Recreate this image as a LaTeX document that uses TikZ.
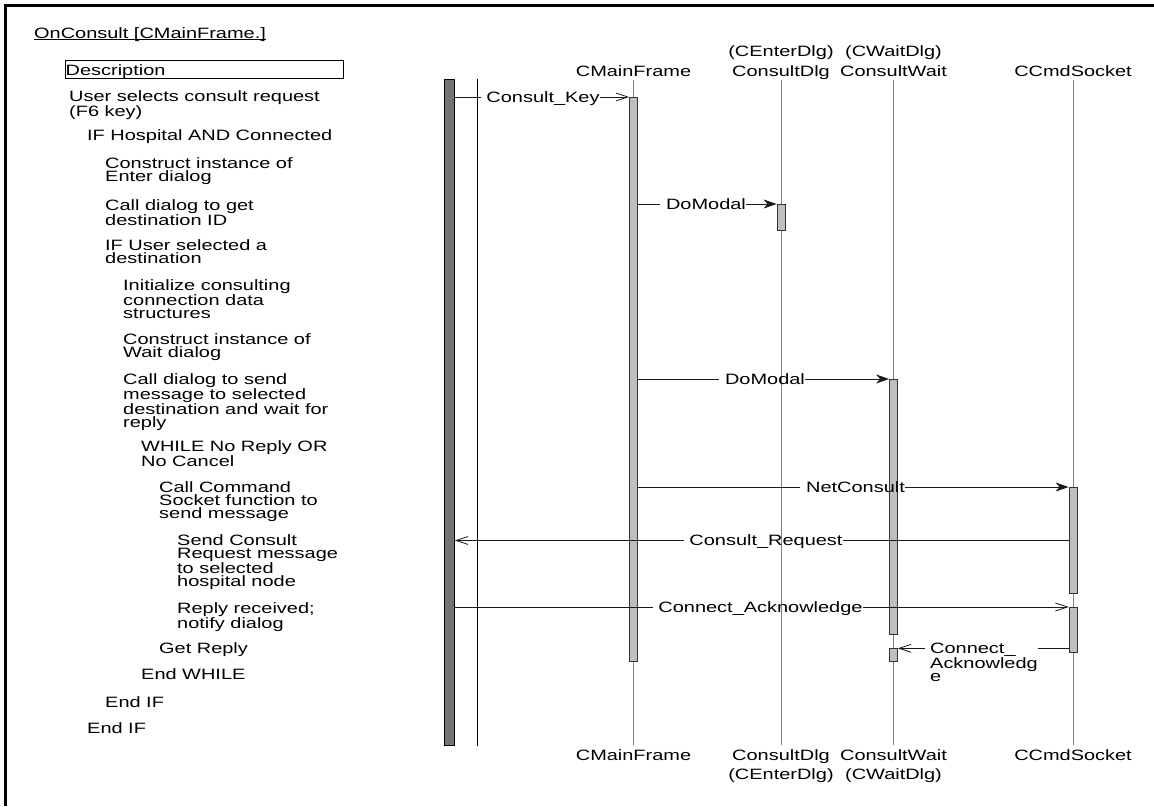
\documentclass[tikz,border=0pt]{standalone}
\usepackage{fontspec}
\setmainfont{Liberation Sans}[FakeStretch=1.33]
\usetikzlibrary{arrows.meta,calc}
\newcommand{\firstln}{\rule{0pt}{11pt}}
\begin{document}
\begin{tikzpicture}[x=1pt,y=-1pt,
  font=\fontsize{15}{13.3}\selectfont,
  every node/.style={inner sep=0pt},
  txt/.style={anchor=north west, align=left},
  hdr/.style={anchor=base},
  lbl/.style={anchor=base},
  life/.style={draw=black!50, line width=0.8pt},
  actbar/.style={draw=black!80, fill=black!25, line width=0.8pt, minimum width=8pt, anchor=north},
  msg/.style={draw=black!90, line width=0.8pt},
  sync/.style={msg, -{Stealth[length=13pt,width=9pt,inset=4pt]}},
  async/.style={msg, -{Straight Barb[length=12pt,width=8pt]}}]
\useasboundingbox (0,0) rectangle (1154,806);
% frame (top and left only)
\draw[line width=3pt] (5.7,806) -- (5.7,5.7) -- (1154,5.7);
% title
\node[anchor=base west] (title) at (34,38) {OnConsult [CMainFrame.]};
\draw[line width=0.8pt] ($(title.base west)+(0,1.5)$) -- ($(title.base east)+(0,1.5)$);
% description header
\node[draw, line width=0.8pt, anchor=north west, minimum width=278pt, minimum height=17.5pt] (descbox) at (65,60) {};
\node[anchor=base west] (desc) at (65.5,75) {Description};
% left column
\node[txt] (t1) at (69,90.5) {\firstln User selects consult request\\(F6 key)};
\node[txt] (t2) at (87,129) {\firstln IF Hospital AND Connected};
\node[txt] (t3) at (105,157) {\firstln Construct instance of\\Enter dialog};
\node[txt] (t4) at (105,199) {\firstln Call dialog to get\\destination ID};
\node[txt] (t5) at (105,239) {\firstln IF User selected a\\destination};
\node[txt] (t6) at (123,279) {\firstln Initialize consulting\\connection data\\structures};
\node[txt] (t7) at (123,333) {\firstln Construct instance of\\Wait dialog};
\node[txt] (t8) at (123,373) {\firstln Call dialog to send\\message to selected\\destination and wait for\\reply};
\node[txt] (t9) at (141,440) {\firstln WHILE No Reply OR\\No Cancel};
\node[txt] (t10) at (159,481) {\firstln Call Command\\Socket function to\\send message};
\node[txt] (t11) at (177,534) {\firstln Send Consult\\Request message\\to selected\\hospital node};
\node[txt] (t12) at (177,602) {\firstln Reply received;\\notify dialog};
\node[txt] (t13) at (159,642) {\firstln Get Reply};
\node[txt] (t14) at (141,668.5) {\firstln End WHILE};
\node[txt] (t15) at (105,696) {\firstln End IF};
\node[txt] (t16) at (87,722) {\firstln End IF};
% headers
\node[hdr] (hcmf) at (633.5,76) {CMainFrame};
\node[hdr] (hcdb) at (781,56) {(CEnterDlg)};
\node[hdr] (hcd) at (781,76) {ConsultDlg};
\node[hdr] (hcwb) at (893.5,56) {(CWaitDlg)};
\node[hdr] (hcw) at (893.5,76) {ConsultWait};
\node[hdr] (hcs) at (1073,76) {CCmdSocket};
% footers
\node[hdr] (fcmf) at (633.5,760) {CMainFrame};
\node[hdr] (fcd) at (781,760) {ConsultDlg};
\node[hdr] (fcdb) at (781,779) {(CEnterDlg)};
\node[hdr] (fcw) at (893.5,760) {ConsultWait};
\node[hdr] (fcwb) at (893.5,779) {(CWaitDlg)};
\node[hdr] (fcs) at (1073,760) {CCmdSocket};
% actor bar and boundary line
\node[draw=black, line width=0.8pt, fill=black!55, minimum width=10pt, minimum height=666pt, anchor=north west] (actor) at (444,79) {};
\draw[line width=0.8pt] (477,79) -- (477,746);
% lifelines
\draw[life] (633.5,80) -- (633.5,745);
\draw[life] (781,80) -- (781,745);
\draw[life] (893.5,80) -- (893.5,745);
\draw[life] (1073,80) -- (1073,745);
% activation bars
\node[actbar, minimum height=563.5pt] (cmfbar) at (633.5,97) {};
\node[actbar, minimum height=26pt] (cdbar) at (781,204) {};
\node[actbar, minimum height=255pt] (cwbar) at (893.5,379) {};
\node[actbar, minimum height=12.5pt] (cwsmall) at (893.5,648.3) {};
\node[actbar, minimum height=106pt] (csbar1) at (1073,487) {};
\node[actbar, minimum height=44.5pt] (csbar2) at (1073,607) {};
% messages
\coordinate (yreq) at (0,540.5);
% 1 Consult_Key
\node[lbl] (l1) at (543,102.3) {Consult\_Key};
\draw[msg] (actor.east |- cmfbar.north) -- ($(l1.west |- cmfbar.north)+(-5.5,0)$);
\draw[async] (l1.east |- cmfbar.north) -- (cmfbar.north west);
% 2 DoModal
\node[lbl] (l2) at (706,209.3) {DoModal};
\draw[msg] (cmfbar.east |- cdbar.north) -- ($(l2.west |- cdbar.north)+(-5.5,0)$);
\draw[sync] (l2.east |- cdbar.north) -- (cdbar.north west);
% 3 DoModal
\node[lbl] (l3) at (765,384.3) {DoModal};
\draw[msg] (cmfbar.east |- cwbar.north) -- ($(l3.west |- cwbar.north)+(-5.5,0)$);
\draw[sync] (l3.east |- cwbar.north) -- (cwbar.north west);
% 4 NetConsult
\node[lbl] (l4) at (855.5,492.3) {NetConsult};
\draw[msg] (cmfbar.east |- csbar1.north) -- ($(l4.west |- csbar1.north)+(-5.5,0)$);
\draw[sync] (l4.east |- csbar1.north) -- (csbar1.north west);
% 5 Consult_Request
\node[lbl] (l5) at (766,545.8) {Consult\_Request};
\draw[msg] (csbar1.west |- yreq) -- (l5.east |- yreq);
\draw[async] ($(l5.west |- yreq)+(-5.5,0)$) -- (actor.east |- yreq);
% 6 Connect_Acknowledge
\node[lbl] (l6) at (760.5,612.3) {Connect\_Acknowledge};
\draw[msg] (actor.east |- csbar2.north) -- ($(l6.west |- csbar2.north)+(-5.5,0)$);
\draw[async] (l6.east |- csbar2.north) -- (csbar2.north west);
% 7 Connect_Acknowledge (return)
\node[txt] (l7) at (930,642.6) {\firstln Connect\_\\Acknowledg\\e};
\draw[msg] (csbar2.west |- cwsmall.north) -- (l7.east |- cwsmall.north);
\draw[async] ($(l7.west |- cwsmall.north)+(-5.5,0)$) -- (cwsmall.north east);
\end{tikzpicture}
\end{document}
